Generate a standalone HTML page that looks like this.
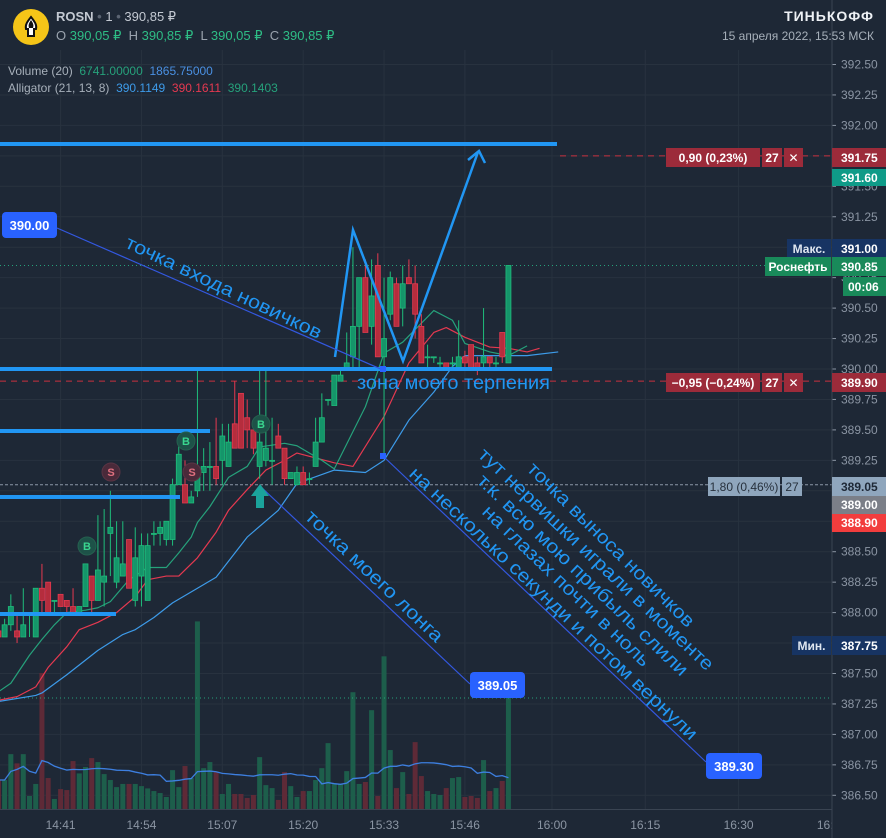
<!DOCTYPE html>
<html><head><meta charset="utf-8"><style>
html,body{margin:0;padding:0;background:#1e2836;}
body{width:886px;height:838px;overflow:hidden;position:relative;font-family:"Liberation Sans","DejaVu Sans",sans-serif;}
.abs{position:absolute;white-space:nowrap;}
</style></head><body>
<svg id="chart" width="886" height="838" style="position:absolute;left:0;top:0" xmlns="http://www.w3.org/2000/svg">
<defs><clipPath id="plotclip"><rect x="0" y="0" width="832" height="838"/></clipPath></defs>
<rect x="0" y="0" width="886" height="838" fill="#1e2836"/>
<g id="grid"></g>
<g id="vol" clip-path="url(#plotclip)"></g>
<g id="lvl"></g>
<g id="alli" clip-path="url(#plotclip)"></g>
<g id="candles"></g>
<g id="draw">
  <line x1="0" y1="144" x2="557" y2="144" stroke="#2196f3" stroke-width="4"/>
  <line x1="0" y1="369" x2="552" y2="369" stroke="#2196f3" stroke-width="4"/>
  <line x1="0" y1="431" x2="210" y2="431" stroke="#2196f3" stroke-width="4"/>
  <line x1="0" y1="497" x2="180" y2="497" stroke="#2196f3" stroke-width="4"/>
  <line x1="0" y1="614" x2="116" y2="614" stroke="#2196f3" stroke-width="4"/>
  <polyline points="335,357 353,230 403,361 478,152" fill="none" stroke="#2196f3" stroke-width="2.5"/>
  <polyline points="468,160 479,151 485,163" fill="none" stroke="#2196f3" stroke-width="2.5"/>
  <line x1="57" y1="228" x2="383" y2="370" stroke="#3358e0" stroke-width="1.2"/>
  <line x1="260" y1="486" x2="470" y2="684" stroke="#3358e0" stroke-width="1.2"/>
  <line x1="384" y1="457" x2="706" y2="762" stroke="#3358e0" stroke-width="1.2"/>
  <rect x="380" y="453" width="6" height="6" fill="#2962ff"/>
  <rect x="380" y="366" width="6" height="6" fill="#2962ff"/>
  <rect x="2" y="212" width="55" height="26" rx="4" fill="#2962ff"/>
  <text x="29.5" y="230" font-size="13" fill="#fff" text-anchor="middle" font-weight="bold">390.00</text>
  <rect x="470" y="672" width="55" height="26" rx="4" fill="#2962ff"/>
  <text x="497.5" y="690" font-size="13" fill="#fff" text-anchor="middle" font-weight="bold">389.05</text>
  <rect x="706" y="753" width="56" height="26" rx="4" fill="#2962ff"/>
  <text x="734" y="771" font-size="13" fill="#fff" text-anchor="middle" font-weight="bold">389.30</text>
  <g font-size="19" fill="#2196f3">
    <text x="124" y="247" textLength="215" lengthAdjust="spacingAndGlyphs" transform="rotate(25.4 124 247)">точка входа новичков</text>
    <text x="357" y="389" textLength="193" lengthAdjust="spacingAndGlyphs">зона моего терпения</text>
    <text x="304" y="518" textLength="182" lengthAdjust="spacingAndGlyphs" transform="rotate(43.5 304 518)">точка моего лонга</text>
    <text x="526" y="470" textLength="226" lengthAdjust="spacingAndGlyphs" transform="rotate(44.5 526 470)">точка выноса новичков</text>
    <text x="477" y="456" textLength="315" lengthAdjust="spacingAndGlyphs" transform="rotate(43.2 477 456)">тут нервишки играли в моменте</text>
    <text x="476" y="482" textLength="283" lengthAdjust="spacingAndGlyphs" transform="rotate(43.6 476 482)">т.к. всю мою прибыль слили</text>
    <text x="481" y="513" textLength="224" lengthAdjust="spacingAndGlyphs" transform="rotate(43.7 481 513)">на глазах почти в ноль</text>
    <text x="408" y="475" textLength="388" lengthAdjust="spacingAndGlyphs" transform="rotate(43.3 408 475)">на несколько секунди и потом вернули</text>
  </g>
  <g font-size="11" font-weight="bold" text-anchor="middle">
    <circle cx="87" cy="546" r="9" fill="#1d5248" stroke="#25604f"/><text x="87" y="550" fill="#3ad68f">B</text>
    <circle cx="186" cy="441" r="9" fill="#1d5248" stroke="#25604f"/><text x="186" y="445" fill="#3ad68f">B</text>
    <circle cx="261" cy="424" r="9" fill="#1d5248" stroke="#25604f"/><text x="261" y="428" fill="#3ad68f">B</text>
    <circle cx="111" cy="472" r="9" fill="#4a2a3a" stroke="#5a3444"/><text x="111" y="476" fill="#e0707f">S</text>
    <circle cx="192" cy="472" r="9" fill="#4a2a3a" stroke="#5a3444"/><text x="192" y="476" fill="#e0707f">S</text>
    <polygon points="260,484 251,496 256,496 256,508 264,508 264,496 269,496" fill="#1ba39c"/>
  </g>
</g>
<g id="axes"></g>
<g font-size="12" font-weight="bold">
  <rect x="666" y="148" width="94" height="19" fill="#9c2b3a"/>
  <text x="713" y="162" fill="#fff" text-anchor="middle">0,90 (0,23%)</text>
  <rect x="762" y="148" width="20" height="19" fill="#9c2b3a"/>
  <text x="772" y="162" fill="#fff" text-anchor="middle">27</text>
  <rect x="784" y="148" width="19" height="19" fill="#9c2b3a"/>
  <text x="793.5" y="162" fill="#fff" text-anchor="middle">✕</text>
  <rect x="832" y="148" width="54" height="19" fill="#9c2b3a"/>
  <text x="841" y="162" fill="#fff">391.75</text>
  <rect x="832" y="169" width="54" height="17" fill="#0f9b88"/>
  <text x="841" y="182" fill="#fff">391.60</text>
  <rect x="787" y="239" width="44" height="19" fill="#173463"/>
  <text x="809" y="253" fill="#dfe6f0" text-anchor="middle">Макс.</text>
  <rect x="832" y="239" width="54" height="19" fill="#173463"/>
  <text x="841" y="253" fill="#fff">391.00</text>
  <rect x="765" y="257" width="66" height="19" fill="#198a5a"/>
  <text x="798" y="271" fill="#fff" text-anchor="middle">Роснефть</text>
  <rect x="832" y="257" width="54" height="19" fill="#198a5a"/>
  <text x="841" y="271" fill="#fff">390.85</text>
  <rect x="843" y="277" width="43" height="19" fill="#198a5a"/>
  <text x="848" y="291" fill="#fff">00:06</text>
  <rect x="666" y="373" width="94" height="19" fill="#9c2b3a"/>
  <text x="713" y="387" fill="#fff" text-anchor="middle">−0,95 (−0,24%)</text>
  <rect x="762" y="373" width="20" height="19" fill="#9c2b3a"/>
  <text x="772" y="387" fill="#fff" text-anchor="middle">27</text>
  <rect x="784" y="373" width="19" height="19" fill="#9c2b3a"/>
  <text x="793.5" y="387" fill="#fff" text-anchor="middle">✕</text>
  <rect x="832" y="373" width="54" height="19" fill="#9c2b3a"/>
  <text x="841" y="387" fill="#fff">389.90</text>
  <rect x="708" y="477" width="72" height="19" fill="#8fa6bd"/>
  <text x="744" y="491" fill="#27313d" text-anchor="middle" font-weight="normal">1,80 (0,46%)</text>
  <rect x="782" y="477" width="20" height="19" fill="#8fa6bd"/>
  <text x="792" y="491" fill="#27313d" text-anchor="middle" font-weight="normal">27</text>
  <rect x="832" y="477" width="54" height="19" fill="#8fa6bd"/>
  <text x="841" y="491" fill="#1e2836">389.05</text>
  <rect x="832" y="496" width="54" height="18" fill="#7b7f88"/>
  <text x="841" y="509" fill="#fff">389.00</text>
  <rect x="832" y="514" width="54" height="18" fill="#f23d3d"/>
  <text x="841" y="527" fill="#fff">388.90</text>
  <rect x="792" y="636" width="39" height="19" fill="#173463"/>
  <text x="811.5" y="650" fill="#dfe6f0" text-anchor="middle">Мин.</text>
  <rect x="832" y="636" width="54" height="19" fill="#173463"/>
  <text x="841" y="650" fill="#fff">387.75</text>
</g>
</svg>

<div class="abs" style="left:13px;top:9px;width:36px;height:36px;border-radius:50%;background:#f5c518;">
  <svg width="36" height="36"><path d="M18 8 C14 13 12 16 13 20 L15 20 L15 27 L21 27 L21 20 L23 20 C24 16 22 13 18 8Z" fill="#fff" stroke="#111" stroke-width="2"/><path d="M18 11 C16 14 15 16 16 19 L20 19 C21 16 20 14 18 11Z" fill="#111"/></svg>
</div>
<div class="abs" style="left:56px;top:9px;font-size:13px;color:#c3c9d2;font-weight:bold;">ROSN <span style="color:#5b6472">•</span> <span style="font-weight:normal">1</span> <span style="color:#5b6472">•</span> <span style="font-weight:normal">390,85 ₽</span></div>
<div class="abs" style="left:56px;top:28px;font-size:13px;color:#9aa3ae;">O <span style="color:#2ebd85">390,05 ₽</span>&nbsp; H <span style="color:#2ebd85">390,85 ₽</span>&nbsp; L <span style="color:#2ebd85">390,05 ₽</span>&nbsp; C <span style="color:#2ebd85">390,85 ₽</span></div>
<div class="abs" style="left:8px;top:64px;font-size:12px;color:#a7b0ba;">Volume (20) &nbsp;<span style="color:#26a17b">6741.00000</span> &nbsp;<span style="color:#4a90e2">1865.75000</span></div>
<div class="abs" style="left:8px;top:81px;font-size:12px;color:#a7b0ba;">Alligator (21, 13, 8) &nbsp;<span style="color:#3d9be9">390.1149</span> &nbsp;<span style="color:#e53950">390.1611</span> &nbsp;<span style="color:#26a17b">390.1403</span></div>
<div class="abs" style="right:12px;top:8px;font-size:14px;color:#eef1f5;font-weight:bold;letter-spacing:1px;">ТИНЬКОФФ</div>
<div class="abs" style="right:12px;top:29px;font-size:12px;color:#a7b0ba;">15 апреля 2022, 15:53 МСК</div>

<script>
const opens  = [387.85,387.80,387.90,387.85,387.80,388.00,387.80,388.20,388.25,388.10,388.15,388.10,388.05,388.00,388.05,388.30,388.10,388.25,388.65,388.25,388.30,388.60,388.10,388.30,388.10,388.65,388.65,388.60,388.60,389.05,389.05,388.90,389.00,389.15,389.20,389.20,389.25,389.20,389.55,389.80,389.60,389.50,389.20,389.25,389.25,389.45,389.35,389.10,389.05,389.15,389.10,389.20,389.40,389.75,389.70,389.90,390.00,390.10,390.35,390.75,390.35,390.85,390.10,390.45,390.70,390.50,390.75,390.70,390.35,390.10,390.10,390.05,390.05,390.05,390.00,390.10,390.20,390.05,390.05,390.10,390.05,390.30,390.05];
const highs  = [387.90,387.95,388.15,388.00,388.20,388.00,388.20,388.40,388.25,388.10,388.15,388.10,388.20,388.05,388.40,388.30,388.80,388.85,389.00,388.75,388.75,388.60,388.70,388.65,388.65,388.75,388.75,388.75,389.10,389.40,389.25,389.00,390.00,389.35,389.40,389.60,389.55,389.55,389.90,389.80,389.75,389.50,390.00,390.00,389.60,389.55,389.35,389.15,389.20,389.20,389.15,389.60,389.80,389.75,389.95,390.00,390.30,391.00,390.75,390.90,390.90,390.95,390.75,390.80,390.75,390.85,390.90,390.85,390.45,390.20,390.10,390.10,390.05,390.10,390.40,390.15,390.20,390.10,390.50,390.10,390.10,390.30,390.85];
const lows   = [387.75,387.80,387.85,387.75,387.80,387.80,387.80,388.00,388.00,388.00,388.05,388.00,388.00,388.00,388.05,388.00,388.10,388.05,388.30,388.20,388.30,388.20,388.05,388.05,388.10,388.55,388.55,388.55,388.55,389.05,388.90,388.90,388.95,389.00,389.00,389.05,389.05,389.20,389.35,389.35,389.35,389.30,389.10,389.20,389.05,389.35,389.05,389.10,389.05,389.05,389.05,389.20,389.40,389.70,389.70,389.90,390.00,390.00,390.00,390.30,390.20,390.10,389.30,390.40,390.35,390.35,390.70,390.25,390.05,390.00,390.05,390.00,390.00,390.00,390.00,390.00,390.00,389.95,390.00,390.00,390.00,390.05,390.05];
const closes = [387.80,387.90,388.05,387.80,387.90,388.00,388.20,388.10,388.00,388.10,388.05,388.05,388.00,388.05,388.40,388.10,388.35,388.30,388.70,388.45,388.40,388.20,388.45,388.55,388.55,388.65,388.70,388.75,389.05,389.30,388.90,388.95,389.15,389.20,389.20,389.10,389.45,389.40,389.35,389.35,389.50,389.35,389.40,389.35,389.25,389.35,389.10,389.15,389.15,389.05,389.10,389.40,389.60,389.75,389.95,389.95,390.05,390.35,390.75,390.30,390.60,390.10,390.25,390.75,390.35,390.70,390.70,390.45,390.05,390.10,390.10,390.05,390.00,390.05,390.10,390.05,390.00,390.00,390.10,390.05,390.05,390.10,390.85];
const volumes = [1760,1760,3330,2770,3330,790,1520,8260,1880,610,1210,1150,2910,2160,2550,3090,2850,2120,1760,1330,1520,1520,1520,1390,1250,1090,970,730,2360,1330,2610,1880,11390,2480,2850,2240,910,1520,910,910,670,850,3150,1450,1270,550,2240,1390,730,1090,1090,1760,2480,4000,1520,1520,2300,7090,1520,1640,6000,790,9270,3580,1270,2240,910,4060,2000,1090,910,850,1270,1880,1940,730,790,670,2970,1090,1270,1700,6741];
// alligator samples: bar index and value
const lipsIdx  = [0,2,5,7,9,11,14,16,18,21,24,27,29,31,32,34,37,40,42,46,48,52,54,59,62,65,70,73,75,79,82,85];
const lipsVal  = [387.35,387.42,387.65,387.78,387.90,388.00,388.02,388.04,388.09,388.27,388.37,388.37,388.49,388.62,388.74,388.87,389.11,389.20,389.36,389.39,389.37,389.25,389.18,389.69,390.13,390.22,390.48,390.40,390.21,390.14,390.11,390.19];
const teethIdx = [0,3,6,8,11,13,16,19,22,24,27,29,32,35,37,40,43,46,48,54,57,62,66,70,72,75,79,82,85,87];
const teethVal = [387.28,387.31,387.39,387.55,387.72,387.86,387.92,388.00,388.13,388.27,388.30,388.30,388.45,388.66,388.84,389.01,389.17,389.25,389.31,389.23,389.20,389.61,390.05,390.30,390.34,390.26,390.18,390.17,390.14,390.17];
const jawIdx   = [0,6,7,11,14,16,20,22,25,28,32,35,40,45,48,54,59,62,66,70,73,75,81,85,90];
const jawVal   = [387.27,387.32,387.34,387.49,387.61,387.69,387.82,387.86,387.96,388.08,388.20,388.29,388.62,388.84,389.06,389.17,389.15,389.25,389.58,389.81,390.02,390.11,390.11,390.11,390.14];
const priceTicks = [392.50,392.25,392.00,391.75,391.50,391.25,391.00,390.75,390.50,390.25,390.00,389.75,389.50,389.25,389.00,388.75,388.50,388.25,388.00,387.75,387.50,387.25,387.00,386.75,386.50];
const timeTickLabels = ["14:41","14:54","15:07","15:20","15:33","15:46","16:00","16:15","16:30","16:45"];
const firstBarTime = "14:31";

const NS = "http://www.w3.org/2000/svg";
function toMin(t){const p=t.split(":");return +p[0]*60+ +p[1];}
function xOf(i){return -1.6 + 6.22*i;}
function yOf(p){return 369 - (p-390)*121.8;}
function yVol(v){return 809 - v*0.01647;}
function mk(tag, attrs, parent){const e=document.createElementNS(NS,tag);for(const k in attrs)e.setAttribute(k,attrs[k]);parent.appendChild(e);return e;}

const grid=document.getElementById('grid');
const axes=document.getElementById('axes');
priceTicks.forEach(p=>{
  const y=yOf(p);
  const gl=mk('line',{x1:0,x2:832,y1:y,y2:y,stroke:'#28323f','stroke-width':1},grid);
  
  
  const tk=mk('line',{x1:832,x2:836,y1:y,y2:y,stroke:'#8b95a3','stroke-width':1},axes);
  
  
  const t=mk('text',{x:841,y:y+4,'font-size':12,fill:'#8b95a3'},axes);
  t.textContent=p.toFixed(2);
  
  
});
const t0=toMin(firstBarTime);
timeTickLabels.forEach(lbl=>{
  const x=xOf(toMin(lbl)-t0);
  const gl=mk('line',{x1:x,x2:x,y1:50,y2:809,stroke:'#28323f','stroke-width':1},grid);
  
  
  const t=mk('text',{x:x,y:829,'font-size':12,fill:'#8b95a3','text-anchor':'middle','clip-path':'url(#plotclip)'},axes);
  t.textContent=lbl;
  
  
});
const ax1=mk('line',{x1:832,x2:832,y1:0,y2:838,stroke:'#3a4452','stroke-width':1},axes);


const ax2=mk('line',{x1:0,x2:832,y1:809.5,y2:809.5,stroke:'#3a4452','stroke-width':1},axes);



// level lines
const lvl=document.getElementById('lvl');
function hline(y,x1,color,dash,name){
  const l=mk('line',{x1:x1,x2:832,y1:y,y2:y,stroke:color,'stroke-width':1,'stroke-dasharray':dash},lvl);
  
  
}
hline(yOf(390.85),0,'#26a17b','1 3','last-price-line');
hline(yOf(389.05),0,'#8a96a6','3 2','position-line');
hline(yOf(389.90),0,'#c8303f','6 5','stop-loss-line');
hline(yOf(391.75),560,'#c8303f','6 5','take-profit-line');
hline(yVol(volumes[volumes.length-1]),0,'#26a17b','1 3','last-volume-line');

// volumes
const vol=document.getElementById('vol');
volumes.forEach((v,i)=>{
  const up=closes[i]>=opens[i];
  const y=yVol(v);
  const r=mk('rect',{x:xOf(i)-2.5,y:y,width:5,height:809-y,fill:up?'#1d5e4b':'#5e2a37'},vol);
  
  
});
// volume SMA(20)
let pts=[];
volumes.forEach((v,i)=>{
  const s=Math.max(0,i-19);let sum=0;for(let k=s;k<=i;k++)sum+=volumes[k];
  pts.push(xOf(i)+','+yVol(sum/(i-s+1)));
});
const vma=mk('polyline',{points:pts.join(' '),fill:'none',stroke:'#3d7fe0','stroke-width':1.3},vol);



// alligator
const alli=document.getElementById('alli');
function aline(idx,vals,color,name){
  const p=idx.map((m,k)=>xOf(m)+','+yOf(vals[k])).join(' ');
  const l=mk('polyline',{points:p,fill:'none',stroke:color,'stroke-width':1.2,'stroke-linejoin':'round'},alli);
  
  
}
aline(jawIdx,jawVal,'#3d9be9','alligator-jaw');
aline(teethIdx,teethVal,'#e53950','alligator-teeth');
aline(lipsIdx,lipsVal,'#26a17b','alligator-lips');

// candles
const cg=document.getElementById('candles');
opens.forEach((o,i)=>{
  const c=closes[i],up=c>=o,x=xOf(i);
  const col=up?'#1fbd7b':'#e53950';
  const w=mk('line',{x1:x,x2:x,y1:yOf(highs[i]),y2:yOf(lows[i]),stroke:col,'stroke-width':1},cg);
  
  
  const yt=yOf(Math.max(o,c)),yb=yOf(Math.min(o,c));
  const b=mk('rect',{x:x-2.5,y:yt,width:5,height:Math.max(1,yb-yt),fill:up?'#15956a':'#b52d3d',stroke:col,'stroke-width':0.8},cg);
  
  
});
</script>
</body></html>
